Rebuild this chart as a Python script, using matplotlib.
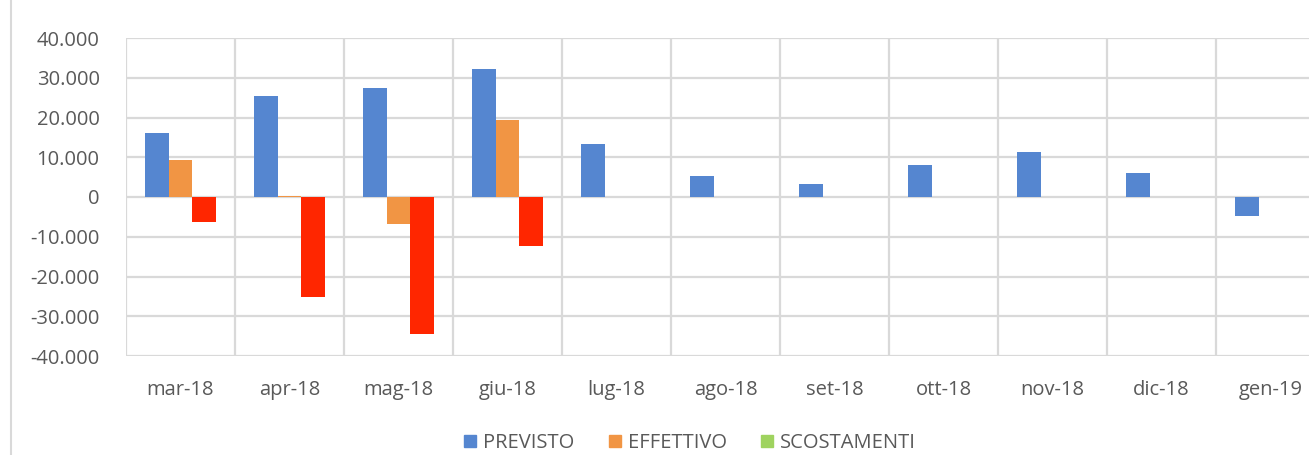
import matplotlib.pyplot as plt
import numpy as np
from matplotlib.patches import Patch
from matplotlib.lines import Line2D
from matplotlib.ticker import FuncFormatter, MultipleLocator

months = ["mar-18", "apr-18", "mag-18", "giu-18", "lug-18", "ago-18",
          "set-18", "ott-18", "nov-18", "dic-18", "gen-19"]
previsto = [16100, 25400, 27400, 32200, 13300, 5300, 3300, 8000, 11300, 6000, -4800]
effettivo = [9300, 300, -6800, 19400, 0, 0, 0, 0, 0, 0, 0]
scostamenti = [-6300, -25200, -34500, -12300, 0, 0, 0, 0, 0, 0, 0]

c_prev = "#5586d0"
c_eff = "#f19544"
c_sco = "#ff2600"
c_sco_legend = "#9fd35f"
text_color = "#595959"
grid_color = "#d9d9d9"

plt.rcParams['font.family'] = ['Open Sans', 'DejaVu Sans']

fig = plt.figure(figsize=(13.09, 4.55), dpi=100)
# plot area runs past the right edge, as in the reference
ax = fig.add_axes([126 / 1309, 99 / 455, 1199 / 1309, 318 / 455])

x = np.arange(len(months))
w = 0.22
ax.bar(x - w, previsto, w, color=c_prev, zorder=3)
ax.bar(x, effettivo, w, color=c_eff, zorder=3)
ax.bar(x + w, scostamenti, w, color=c_sco, zorder=3)

ax.set_xlim(-0.5, len(months) - 0.5)
ax.set_ylim(-40000, 40000)
ax.yaxis.set_major_locator(MultipleLocator(10000))
ax.yaxis.set_major_formatter(FuncFormatter(
    lambda v, p: "0" if v == 0 else f"{v:,.0f}".replace(",", ".")))

ax.set_xticks(x)
ax.set_xticklabels(months)
ax.set_xticks(np.arange(-0.5, len(months) + 0.5, 1), minor=True)

ax.grid(axis='y', which='major', color=grid_color, lw=1.6, zorder=0)
ax.grid(axis='x', which='minor', color=grid_color, lw=1.6, zorder=0)
ax.tick_params(axis='both', which='both', length=0, labelsize=14.5, colors=text_color)
ax.tick_params(axis='x', pad=17)
ax.tick_params(axis='y', pad=19)
for s in ax.spines.values():
    s.set_visible(False)

# chart frame on the left
fig.add_artist(Line2D([11 / 1309, 11 / 1309], [0, 1], color=grid_color, lw=1.5))

handles = [Patch(color=c_prev), Patch(color=c_eff), Patch(color=c_sco_legend)]
fig.legend(handles, ["PREVISTO", "EFFETTIVO", "SCOSTAMENTI"], loc='center',
           bbox_to_anchor=(690 / 1309, 1 - 443 / 455), ncol=3, frameon=False,
           fontsize=14.5, labelcolor=text_color, handlelength=0.6, handleheight=0.6,
           handletextpad=0.35, columnspacing=1.7)

fig.savefig("out.png", dpi=100)
